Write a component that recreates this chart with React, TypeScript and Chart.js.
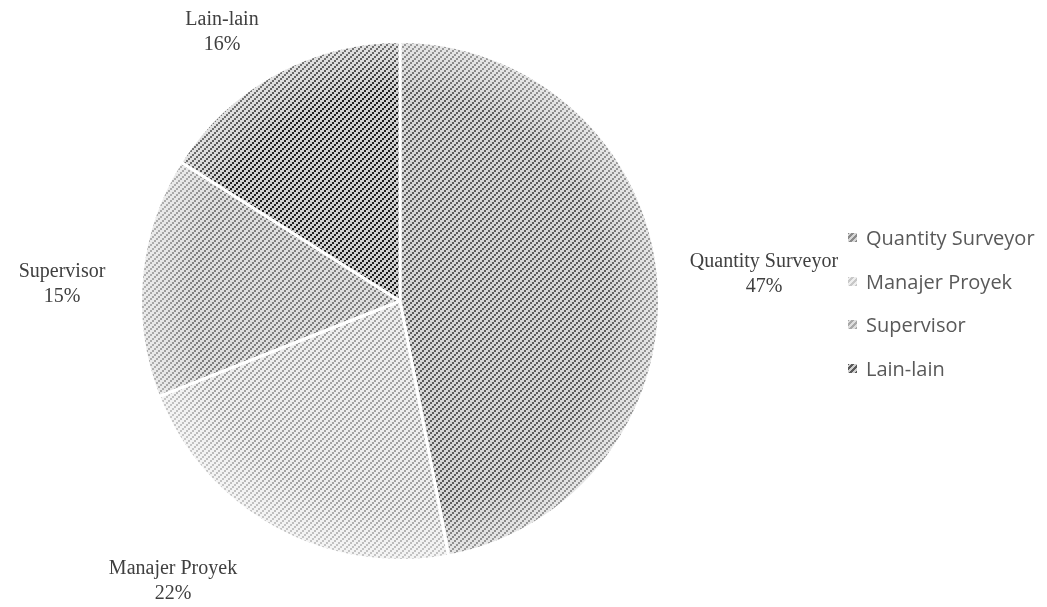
import React, { useEffect, useRef } from "react";
import { Chart, registerables } from "chart.js";

Chart.register(...registerables);

const categories = ["Quantity Surveyor", "Manajer Proyek", "Supervisor", "Lain-lain"];
const values = [47, 22, 15, 16];
const stripeColors = ["#5c5c5c", "#a3a3a3", "#7f7f7f", "#1e1e1e"];
const backColors = ["#d6d6d6", "#eeeeee", "#dedede", "#cfcfcf"];
const legendSwatch = ["#8a8a8a", "#c8c8c8", "#a8a8a8", "#5a5a5a"];
// label layout (center x, first-line y)
const labelLayout = [
  [764, 262],
  [173, 569],
  [62, 272],
  [222, 20],
];

function makePattern(stripe: string, back: string): CanvasPattern | string {
  const c = document.createElement("canvas");
  c.width = 6;
  c.height = 6;
  const g = c.getContext("2d");
  if (!g) return back;
  g.fillStyle = back;
  g.fillRect(0, 0, 6, 6);
  g.fillStyle = stripe;
  g.fillRect(0, 4, 2, 2);
  g.fillRect(2, 2, 2, 2);
  g.fillRect(4, 0, 2, 2);
  const p = g.createPattern(c, "repeat");
  return p || back;
}

const rimPlugin = {
  id: "rim",
  afterDatasetsDraw(chart: any) {
    const meta = chart.getDatasetMeta(0);
    const arc = meta.data[0];
    if (!arc) return;
    const { x, y, outerRadius } = arc.getProps(["x", "y", "outerRadius"], true);
    const ctx = chart.ctx;
    ctx.save();
    const grad = ctx.createRadialGradient(x, y, outerRadius * 0.8, x, y, outerRadius);
    grad.addColorStop(0, "rgba(255,255,255,0)");
    grad.addColorStop(1, "rgba(255,255,255,0.4)");
    ctx.beginPath();
    ctx.arc(x, y, outerRadius, 0, Math.PI * 2);
    ctx.fillStyle = grad;
    ctx.fill();
    ctx.restore();
  },
};

const labelPlugin = {
  id: "outLabels",
  afterDraw(chart: any) {
    const ctx = chart.ctx;
    ctx.save();
    ctx.font = "20px 'Liberation Serif', 'Times New Roman', serif";
    ctx.fillStyle = "#404040";
    ctx.textAlign = "center";
    ctx.textBaseline = "middle";
    const total = values.reduce((a, b) => a + b, 0);
    categories.forEach((cat, i) => {
      const [lx, ly] = labelLayout[i];
      ctx.fillText(cat, lx, ly);
      ctx.fillText(Math.round((values[i] / total) * 100) + "%", lx, ly + 25);
    });
    ctx.restore();
  },
};

export default function App() {
  const ref = useRef<HTMLCanvasElement | null>(null);
  useEffect(() => {
    if (!ref.current) return;
    const patterns = values.map((_, i) => makePattern(stripeColors[i], backColors[i]));
    const chart = new Chart(ref.current, {
      type: "pie",
      data: {
        labels: categories,
        datasets: [
          {
            data: values,
            backgroundColor: patterns as any,
            borderColor: "#ffffff",
            borderWidth: 3,
          },
        ],
      },
      options: {
        animation: false,
        responsive: false,
        devicePixelRatio: 1,
        layout: { padding: { left: 139, right: 386, top: 40, bottom: 45 } },
        plugins: {
          legend: { display: false },
          tooltip: { enabled: false },
        },
      },
      plugins: [rimPlugin, labelPlugin],
    });
    return () => chart.destroy();
  }, []);

  return (
    <div style={{ position: "fixed", left: 0, top: 0, width: 1047, height: 607, background: "#fff" }}>
      <canvas ref={ref} width={1047} height={607} style={{ position: "absolute", left: 0, top: 0 }} />
      <div style={{ position: "absolute", left: 848, top: 216 }}>
        {categories.map((c, i) => (
          <div
            key={c}
            style={{
              display: "flex",
              alignItems: "center",
              height: 43.5,
              fontFamily: "'Open Sans', 'Liberation Sans', Arial, sans-serif",
              fontSize: 20,
              color: "#595959",
              whiteSpace: "nowrap",
            }}
          >
            <span
              style={{
                display: "inline-block",
                width: 9,
                height: 9,
                marginRight: 9,
                background: `repeating-linear-gradient(-45deg, ${legendSwatch[i]} 0 2px, ${backColors[i]} 2px 4px)`,
              }}
            />
            {c}
          </div>
        ))}
      </div>
    </div>
  );
}
